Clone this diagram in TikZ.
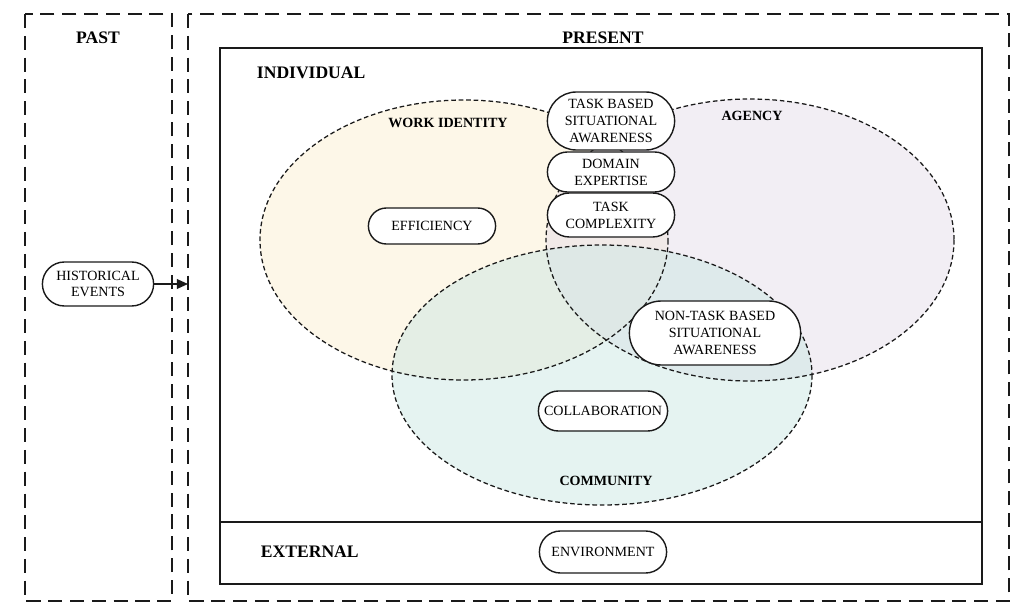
\documentclass[tikz,border=0pt]{standalone}
\usepackage{fontspec}
\setmainfont{Liberation Serif}
\usepackage{tikz}
\usetikzlibrary{arrows.meta,shapes.misc}
\usepackage{xcolor}
\definecolor{cwork}{HTML}{FBEFD2}
\definecolor{cagency}{HTML}{E5DDE9}
\definecolor{ccomm}{HTML}{CBE7E3}
\definecolor{cink}{HTML}{1A1A1A}

\begin{document}
\begin{tikzpicture}[
  x=0.025cm, y=-0.025cm,
  frame/.style={draw=cink, line width=1.3pt, dash pattern=on 10pt off 5.5pt},
  panel/.style={draw=cink, line width=1.2pt},
  blob/.style={draw=cink, line width=0.9pt, dash pattern=on 3.3pt off 2pt},
  pill/.style={rounded rectangle, draw=cink, fill=white, line width=1pt, align=center,
               inner sep=1pt, font=\fontsize{10}{12}\selectfont},
  head/.style={font=\bfseries\fontsize{12.5}{14}\selectfont},
  tag/.style={font=\bfseries\fontsize{10}{12}\selectfont},
  arr/.style={-{Triangle[length=8pt,width=7pt]}, line width=1pt, cink},
]
\useasboundingbox (0,0) rectangle (1024,610);
% ---------- frames ----------
\draw[frame] (25,14) rectangle (172,601);
\draw[frame] (188,14) rectangle (1009,601);
\draw[panel] (220,48) rectangle (982,584);
\draw[panel] (220,522) -- (982,522);
\node[head] (past) at (98,38) {PAST};
\node[head] (present) at (603,38) {PRESENT};
\node[head, anchor=west] (indiv) at (252,73) {INDIVIDUAL};
\node[head, anchor=west] (extern) at (256,552) {EXTERNAL};
% ---------- overlapping spheres ----------
\begin{scope}[fill opacity=0.5]
\fill[cwork] (464,240) ellipse [x radius=204, y radius=140];
\fill[cagency] (750,240) ellipse [x radius=204, y radius=141];
\fill[ccomm] (602,375) ellipse [x radius=210, y radius=130];
\end{scope}
\draw[blob] (464,240) ellipse [x radius=204, y radius=140];
\draw[blob] (750,240) ellipse [x radius=204, y radius=141];
\draw[blob] (602,375) ellipse [x radius=210, y radius=130];
\node[tag] (worklab) at (448,123) {WORK IDENTITY};
\node[tag] (agencylab) at (752,116) {AGENCY};
\node[tag] (commlab) at (606,481) {COMMUNITY};
% ---------- factors ----------
\node[pill, minimum width=3.25cm, minimum height=0.9cm] (effic) at (432,226) {EFFICIENCY};
\node[pill, minimum width=3.25cm, minimum height=1.45cm] (tbsa) at (611,121) {TASK BASED\\SITUATIONAL\\AWARENESS};
\node[pill, minimum width=3.25cm, minimum height=1.0cm] (domexp) at (611,172) {DOMAIN\\EXPERTISE};
\node[pill, minimum width=3.25cm, minimum height=1.1cm] (taskcx) at (611,215) {TASK\\COMPLEXITY};
\node[pill, minimum width=4.35cm, minimum height=1.6cm] (ntbsa) at (715,333) {NON-TASK BASED\\SITUATIONAL\\AWARENESS};
\node[pill, minimum width=3.3cm, minimum height=1.0cm] (collab) at (603,411) {COLLABORATION};
\node[pill, minimum width=3.25cm, minimum height=1.05cm] (envir) at (603,552) {ENVIRONMENT};
\node[pill, minimum width=2.85cm, minimum height=1.1cm] (hist) at (98,284) {HISTORICAL\\EVENTS};
% past feeds the present
\coordinate (presL) at (188,284);
\draw[arr] (hist.east) -- (presL);
\end{tikzpicture}
\end{document}
